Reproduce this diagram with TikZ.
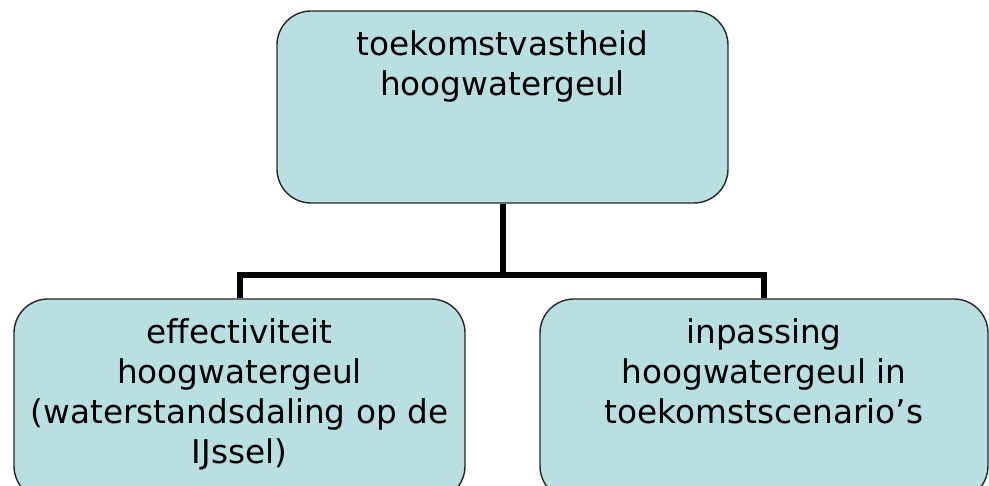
\documentclass[tikz,border=0pt]{standalone}
\usepackage{fontspec}
\setmainfont[Ligatures=CommonOff]{DejaVu Sans}
\definecolor{boxfill}{RGB}{185,223,227}
\begin{document}
\begin{tikzpicture}[x=1pt,y=-1pt,
  box/.style={draw=black!85, line width=1.4pt, fill=boxfill, rounded corners=34pt, inner sep=0pt},
  lbl/.style={anchor=north, inner sep=0pt, align=center, font=\fontsize{32.7}{40}\selectfont},
  conn/.style={line width=6pt, line join=miter}]
\useasboundingbox (0,0) rectangle (989,486);
\node[box, minimum width=451pt, minimum height=192pt] (top) at (502.5,107) {};
\node[box, minimum width=451pt, minimum height=201pt] (left) at (239.5,399.5) {};
\node[box, minimum width=448pt, minimum height=201pt] (right) at (764,399.5) {};
\coordinate (bus) at (502.5,275);
\draw[conn] (top.south) -- (bus);
\draw[conn] (left.north) |- (bus) -| (right.north);
\node[lbl] (toptext) at (502.5,30) {toekomstvastheid\\hoogwatergeul};
\node[lbl] (lefttext) at (239.5,318) {effectiviteit\\hoogwatergeul\\(waterstandsdaling op de\\IJssel)};
\node[lbl] (righttext) at (764,318) {inpassing\\hoogwatergeul in\\toekomstscenario’s};
\end{tikzpicture}
\end{document}
